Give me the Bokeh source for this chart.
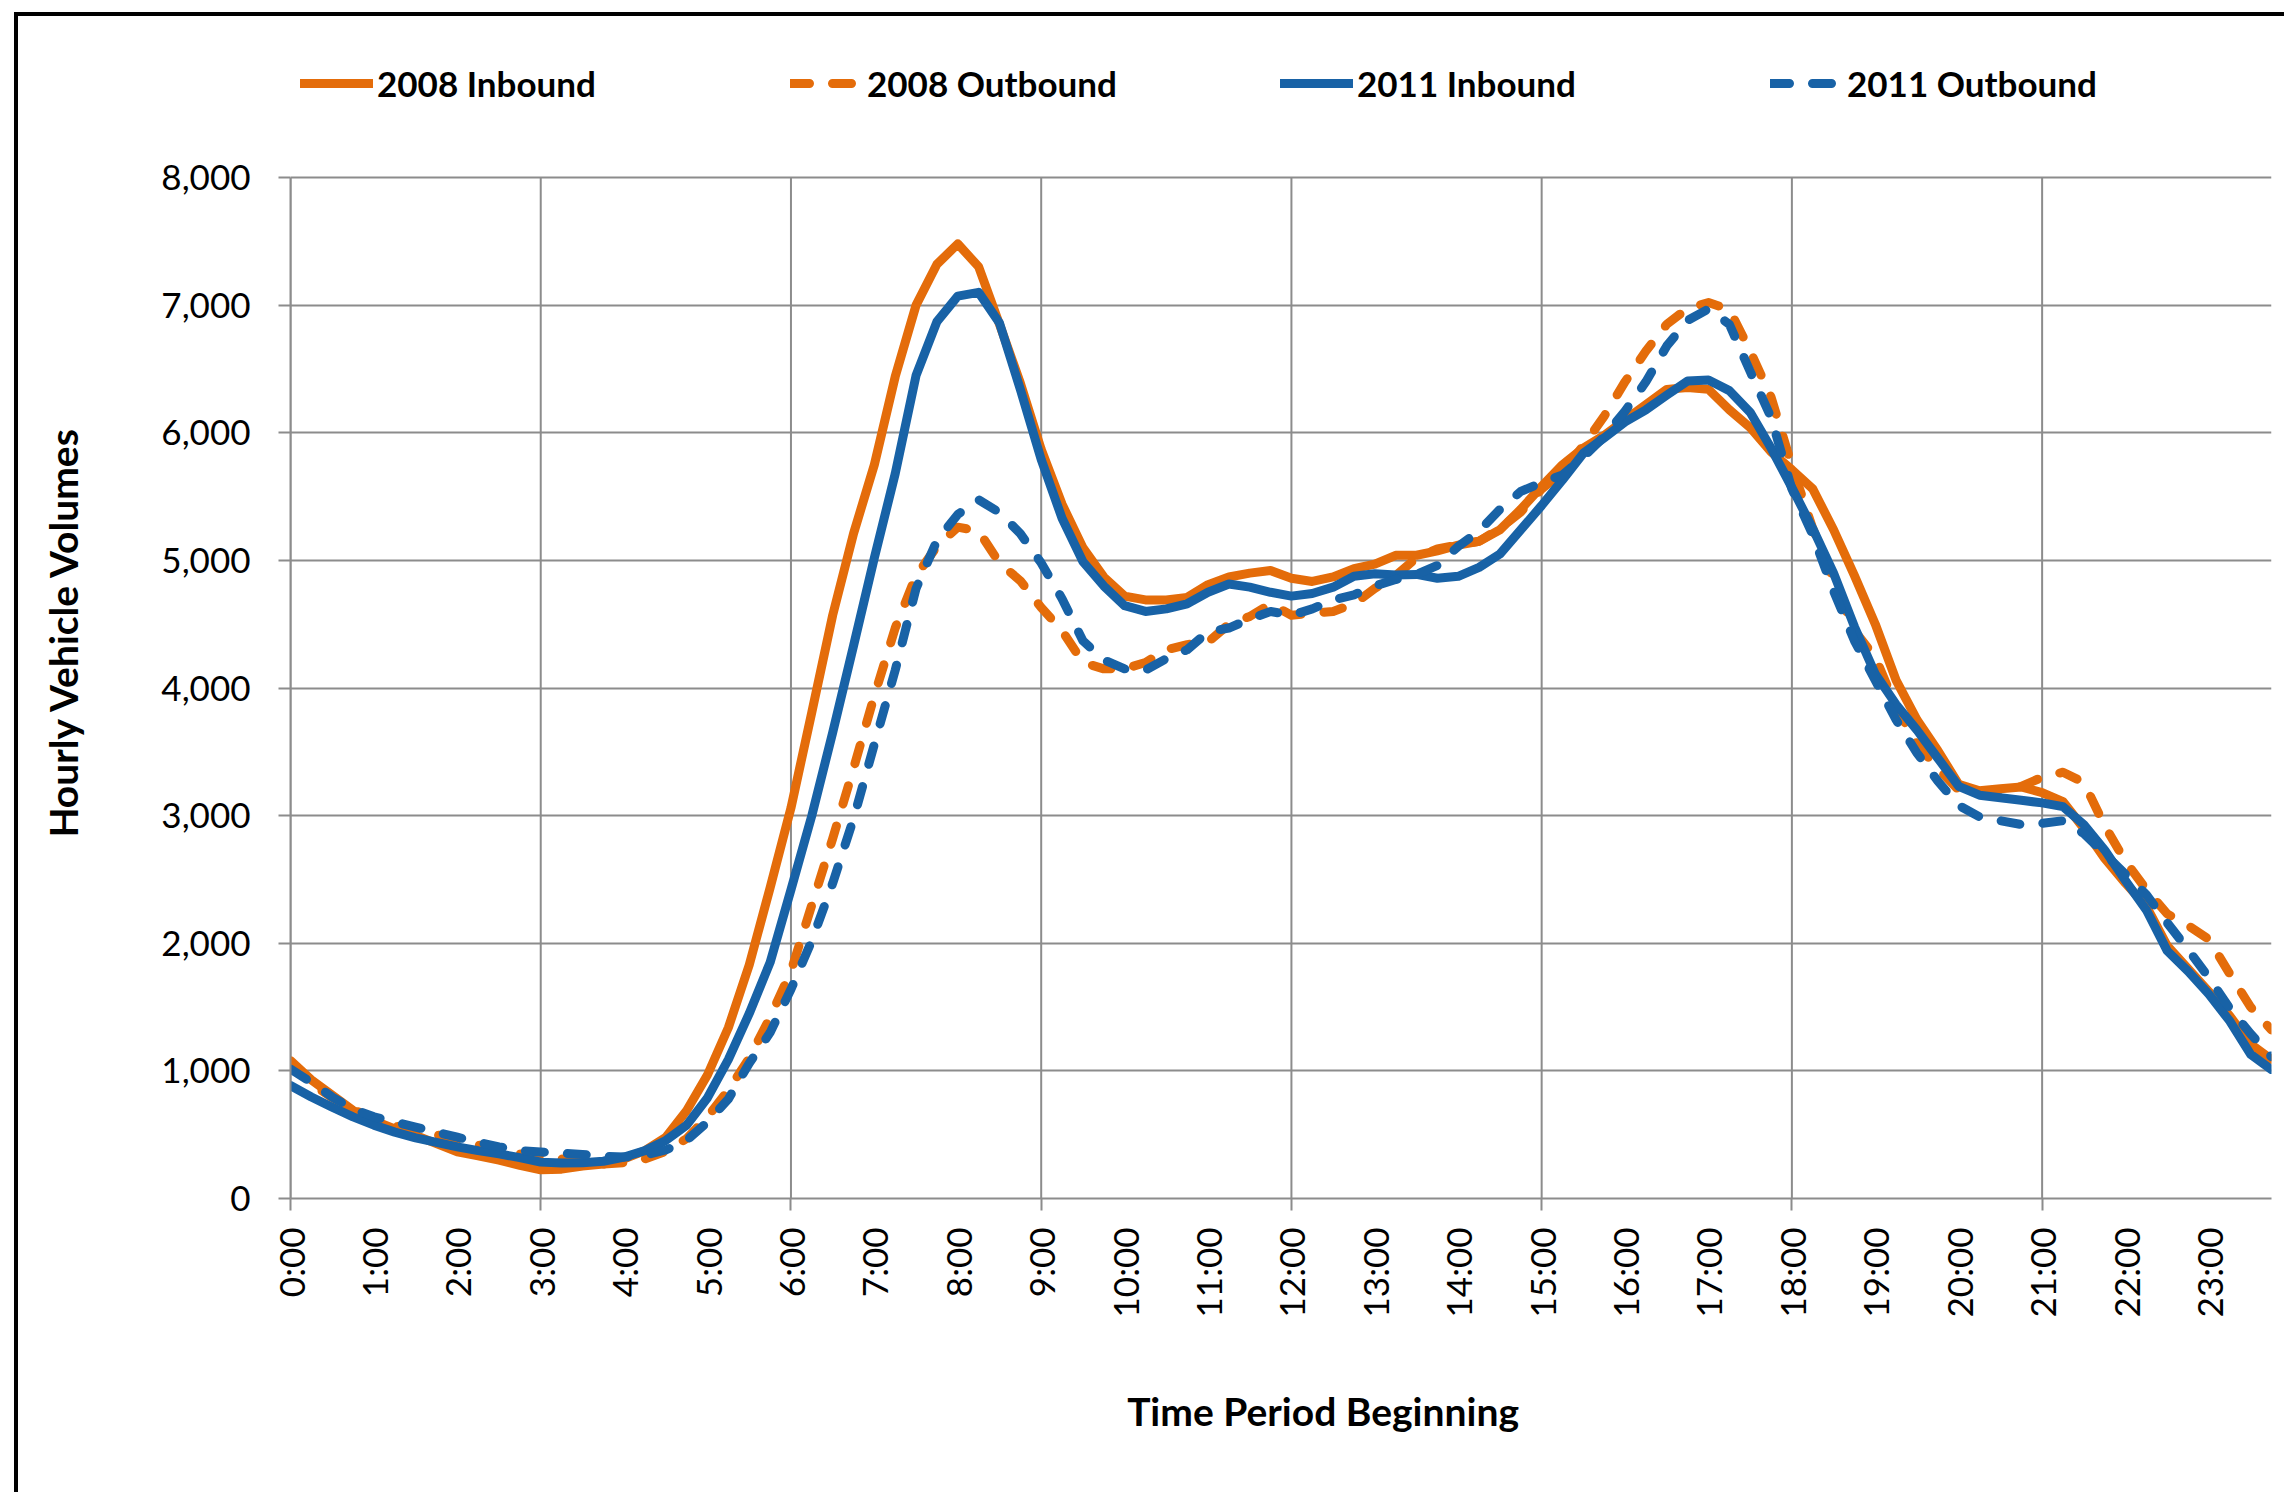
import math
from bokeh.plotting import figure
from bokeh.models import (Range1d, FixedTicker, NumeralTickFormatter, Legend, LegendItem,
                          ColumnDataSource)
from bokeh.embed import file_html
from bokeh.resources import INLINE

# ---------------- data (15-minute periods, hourly volumes) ----------------
quarter_index = list(range(96))          # 0:00, 0:15, ... 23:45

inbound_2008 = [
    1080, 930, 810, 690, 610, 545, 495, 430, 365, 335, 300, 260,
    225, 230, 255, 270, 310, 375, 480, 690, 970, 1340, 1830, 2435,
    3060, 3810, 4570, 5210, 5750, 6440, 7000, 7320, 7480, 7300, 6850, 6390,
    5870, 5440, 5100, 4870, 4720, 4690, 4690, 4710, 4810, 4870, 4900, 4920,
    4860, 4835, 4870, 4935, 4970, 5040, 5040, 5075, 5120, 5150, 5240, 5400,
    5580, 5750, 5880, 5980, 6100, 6220, 6340, 6355, 6340, 6180, 6040, 5850,
    5710, 5560, 5240, 4880, 4500, 4060, 3750, 3510, 3245, 3195, 3210, 3225,
    3180, 3110, 2900, 2665, 2470, 2290, 1980, 1800, 1620, 1430, 1210, 1090,
]
outbound_2008 = [
    1060, 900, 790, 700, 620, 570, 530, 500, 460, 420, 380, 350,
    330, 310, 290, 270, 280, 310, 370, 470, 640, 850, 1100, 1420,
    1780, 2300, 2820, 3370, 3940, 4470, 4880, 5110, 5260, 5230, 4980, 4840,
    4630, 4450, 4200, 4150, 4150, 4200, 4300, 4340, 4360, 4500, 4560, 4660,
    4570, 4585, 4600, 4660, 4780, 4880, 5020, 5090, 5120, 5150, 5250, 5380,
    5560, 5690, 5900, 6130, 6400, 6640, 6850, 6975, 7020, 6965, 6640, 6280,
    5740, 5250, 4850, 4450, 4240, 3850, 3560, 3370, 3200, 3180, 3190, 3230,
    3300, 3340, 3260, 2920, 2640, 2420, 2230, 2140, 2030, 1760, 1500, 1320,
]
inbound_2011 = [
    885, 795, 715, 640, 575, 520, 475, 440, 405, 375, 350, 320,
    285, 278, 280, 292, 325, 375, 455, 575, 790, 1090, 1450, 1850,
    2420, 3000, 3650, 4330, 5020, 5680, 6450, 6870, 7070, 7100, 6860, 6340,
    5790, 5330, 4990, 4800, 4645, 4600, 4620, 4660, 4750, 4815, 4790, 4750,
    4720, 4740, 4790, 4875, 4895, 4885, 4890, 4860, 4875, 4945, 5050, 5240,
    5430, 5630, 5840, 5960, 6085, 6180, 6295, 6405, 6413, 6330, 6160, 5880,
    5570, 5250, 4900, 4480, 4110, 3870, 3670, 3450, 3230, 3160, 3140, 3120,
    3100, 3070, 2930, 2730, 2490, 2260, 1940, 1780, 1600, 1390, 1130, 1010,
]
outbound_2011 = [
    1015, 910, 795, 700, 640, 600, 560, 520, 480, 440, 405, 375,
    365, 355, 345, 330, 325, 340, 380, 455, 600, 780, 1060, 1300,
    1640, 2020, 2470, 2975, 3560, 4140, 4780, 5155, 5360, 5475, 5375, 5210,
    4980, 4700, 4370, 4220, 4150, 4140, 4230, 4300, 4440, 4470, 4540, 4600,
    4570, 4620, 4690, 4730, 4800, 4850, 4890, 4960, 5110, 5230, 5400, 5540,
    5610, 5670, 5810, 5970, 6170, 6400, 6680, 6880, 6970, 6850, 6480, 6120,
    5560, 5200, 4760, 4370, 4060, 3750, 3490, 3270, 3080, 2990, 2960, 2930,
    2940, 2960, 2860, 2700, 2540, 2380, 2160, 1950, 1730, 1490, 1290, 1110,
]

series_names = ["2008 Inbound", "2008 Outbound", "2011 Inbound", "2011 Outbound"]

hour_ticks = list(range(24))
hour_labels = ["0:00", "1:00", "2:00", "3:00", "4:00", "5:00", "6:00", "7:00",
               "8:00", "9:00", "10:00", "11:00", "12:00", "13:00", "14:00", "15:00",
               "16:00", "17:00", "18:00", "19:00", "20:00", "21:00", "22:00", "23:00"]
grid_hours = [0, 3, 6, 9, 12, 15, 18, 21]
y_ticks = [0, 1000, 2000, 3000, 4000, 5000, 6000, 7000, 8000]
y_max = 8000

x_title = "Time Period Beginning"
y_title = "Hourly Vehicle Volumes"

# ---------------- styling / layout ----------------
ORANGE = "#E46C0A"
BLUE = "#1862A6"
GRID = "#8C8C8C"
FONT = "Lato"
NBSP = "\u00a0"

W, H = 2270, 1480
FRAME_TOP, FRAME_BOTTOM = 10, 1182          # canvas px
PLOT_TOP_PX = 161                            # canvas px where y_max sits
# extend the visible range upward so the legend can live inside the frame
y_top = y_max + (PLOT_TOP_PX - FRAME_TOP) * y_max / (FRAME_BOTTOM - PLOT_TOP_PX)

hours = [q / 4 for q in quarter_index]
src = ColumnDataSource(dict(h=hours, ib08=inbound_2008, ob08=outbound_2008,
                            ib11=inbound_2011, ob11=outbound_2011))

p = figure(width=W, height=H, output_backend="svg", toolbar_location=None,
           x_range=Range1d(0, 23.75), y_range=Range1d(0, y_top),
           min_border_left=272, min_border_right=17, min_border_top=FRAME_TOP,
           min_border_bottom=H - FRAME_BOTTOM)
p.margin = (12, 0, 0, 14)
p.styles = {"border-left": "4px solid black", "border-top": "4px solid black"}
p.outline_line_color = None
p.background_fill_color = "white"
p.border_fill_color = "white"

# x axis
p.xaxis.ticker = FixedTicker(ticks=hour_ticks, minor_ticks=grid_hours)
p.xaxis.major_label_overrides = {t: lab for t, lab in zip(hour_ticks, hour_labels)}
p.xaxis.major_label_orientation = math.pi / 2
p.xaxis.major_tick_line_color = None
p.xaxis.major_tick_out = 12
p.xaxis.major_tick_in = 0
p.xaxis.minor_tick_line_color = GRID
p.xaxis.minor_tick_line_width = 2
p.xaxis.minor_tick_out = 12
p.xaxis.minor_tick_in = 0
p.xaxis.major_label_standoff = 17
p.xaxis.axis_line_color = GRID
p.xaxis.axis_line_width = 2
p.xaxis.axis_label = NBSP * 9 + x_title
p.xaxis.axis_label_standoff = 68

# y axis
p.yaxis.ticker = FixedTicker(ticks=y_ticks)
p.yaxis.bounds = (0, y_max)
p.yaxis.formatter = NumeralTickFormatter(format="0,0")
p.yaxis.major_tick_out = 12
p.yaxis.major_tick_in = 0
p.yaxis.major_tick_line_color = GRID
p.yaxis.major_tick_line_width = 2
p.yaxis.minor_tick_line_color = None
p.yaxis.major_label_standoff = 28
p.yaxis.axis_line_color = GRID
p.yaxis.axis_line_width = 2
p.yaxis.axis_label = y_title + NBSP * 4
p.yaxis.axis_label_standoff = 72

for ax in (p.xaxis, p.yaxis):
    ax.major_label_text_font = FONT
    ax.major_label_text_font_size = "35px"
    ax.major_label_text_color = "black"
    ax.axis_label_text_font = FONT
    ax.axis_label_text_font_style = "bold"
    ax.axis_label_text_font_size = "39px"
    ax.axis_label_text_color = "black"

# horizontal grid from the axis ticker; vertical grid drawn only up to y_max
p.ygrid.grid_line_color = GRID
p.ygrid.grid_line_width = 2
p.xgrid.grid_line_color = None
p.segment(x0=grid_hours, y0=[0] * len(grid_hours), x1=grid_hours,
          y1=[y_max] * len(grid_hours), line_color=GRID, line_width=2)

# lines
common = dict(line_width=9, line_cap="round", line_join="round")
DASH = "19 23"
r1 = p.line("h", "ib08", source=src, line_color=ORANGE, **common)
r2 = p.line("h", "ob08", source=src, line_color=ORANGE, line_dash=DASH, **common)
r3 = p.line("h", "ib11", source=src, line_color=BLUE, **common)
r4 = p.line("h", "ob11", source=src, line_color=BLUE, line_dash=DASH, **common)

legend = Legend(items=[LegendItem(label=n, renderers=[r]) for n, r in
                       zip(series_names, [r1, r2, r3, r4])],
                orientation="horizontal", location=(10, 1094),
                label_text_font=FONT, label_text_font_style="bold",
                label_text_font_size="35px", label_text_color="black",
                glyph_width=73, glyph_height=20, label_standoff=4,
                label_width=404, spacing=9, padding=0, margin=0,
                border_line_color=None, background_fill_alpha=0)
p.add_layout(legend)

open("out.html", "w").write(file_html(p, INLINE))
